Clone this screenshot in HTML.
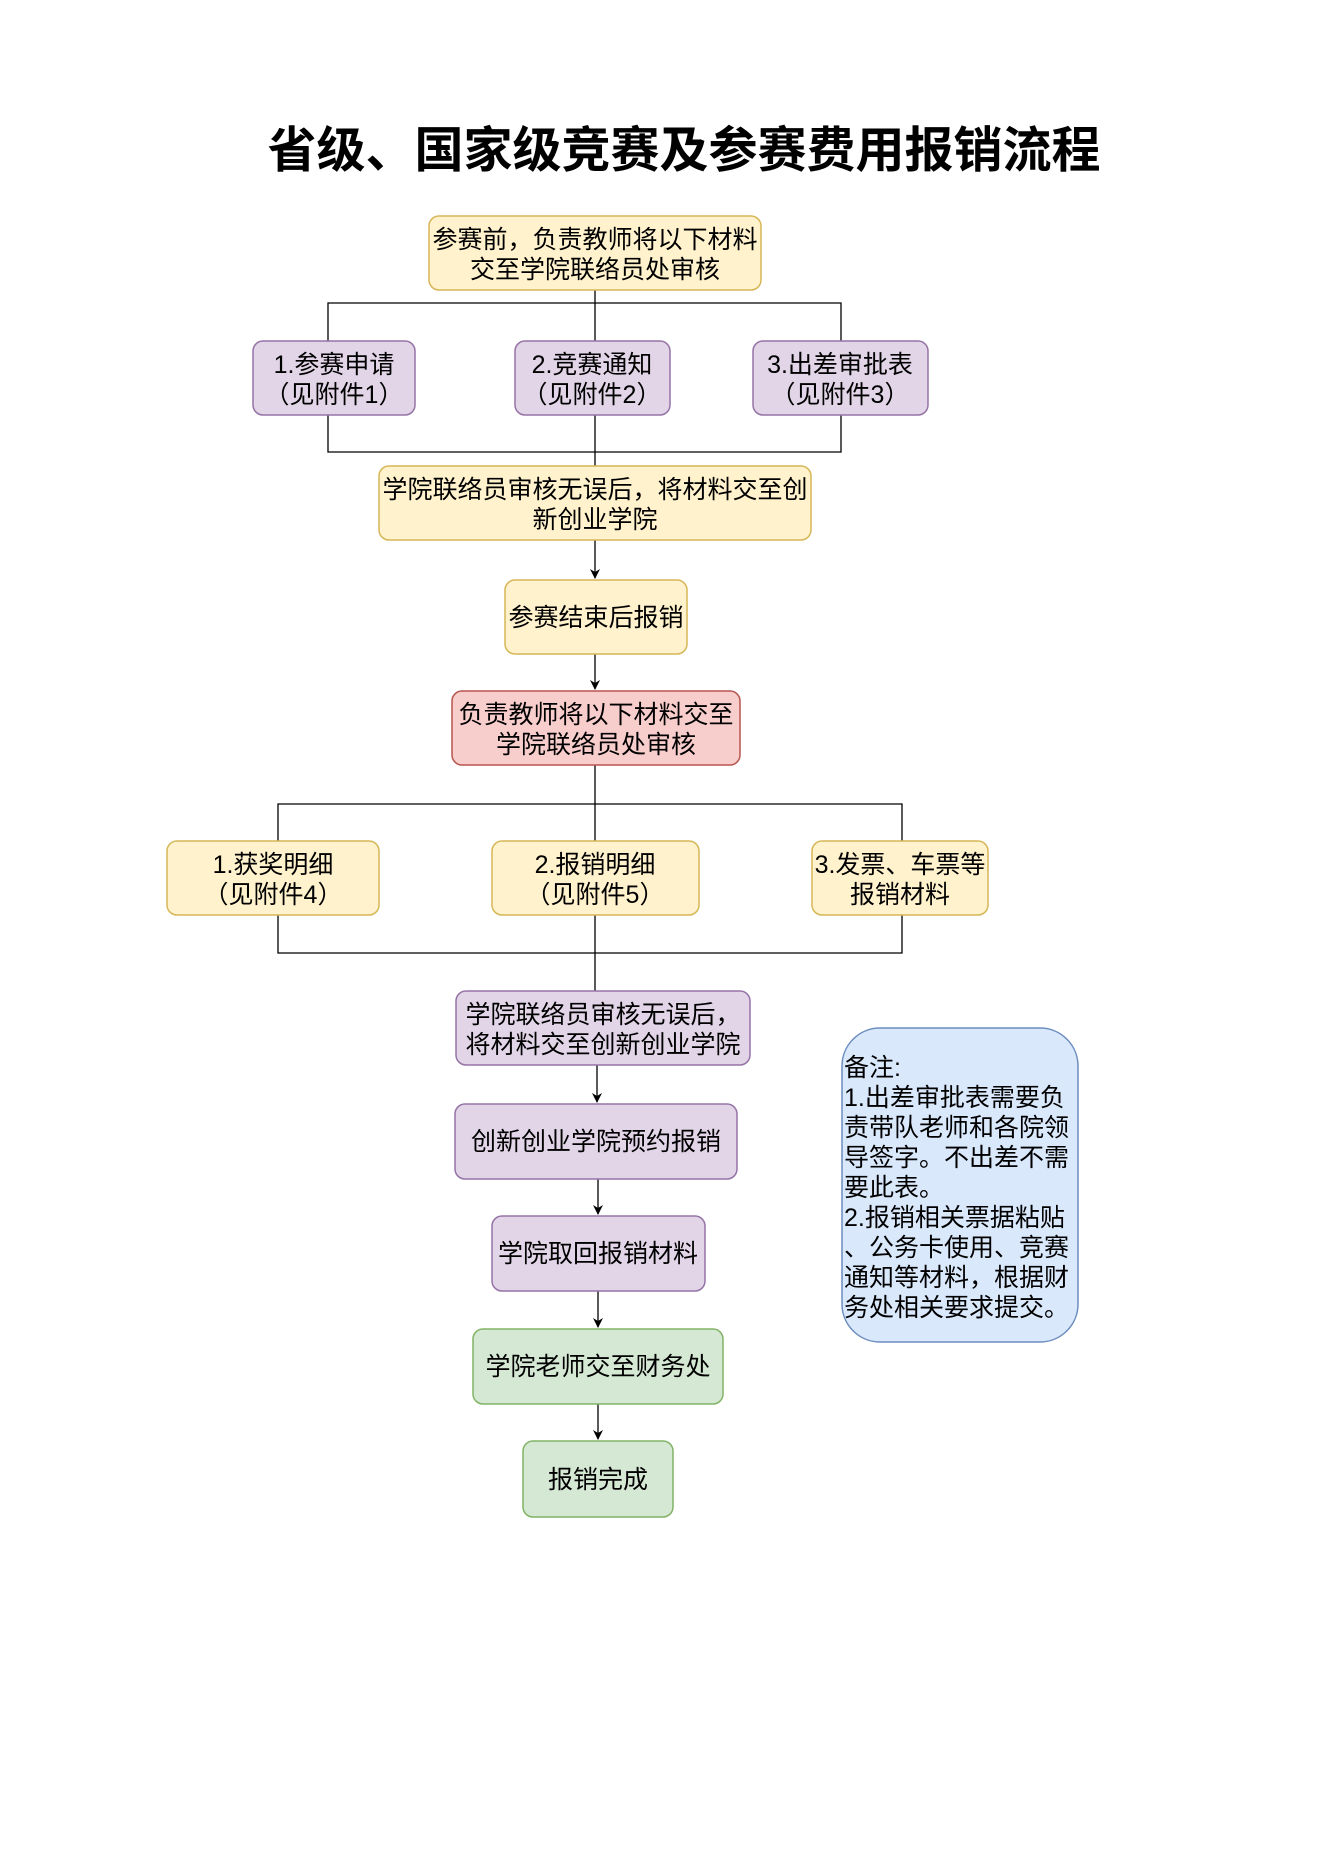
<!DOCTYPE html>
<html><head><meta charset="utf-8"><style>
html,body{margin:0;padding:0;background:#fff;}
svg{display:block;}
text{font-family:"Liberation Sans","Noto Sans CJK SC",sans-serif;font-size:25px;fill:#000;}
</style></head><body>
<svg width="1322" height="1871" viewBox="0 0 1322 1871" xmlns="http://www.w3.org/2000/svg">
<defs><marker id="a" markerWidth="10" markerHeight="10" refX="9" refY="5" orient="auto" markerUnits="userSpaceOnUse"><path d="M0,0 L10,5 L0,10 L3,5 Z" fill="#000"/></marker></defs>
<text x="684" y="167" text-anchor="middle" style="font-size:49px;font-weight:bold">省级、国家级竞赛及参赛费用报销流程</text>

<g stroke="#000" stroke-width="1.3" fill="none">
<path d="M595 290 V466"/>
<path d="M328 341 V303 H841 V341"/>
<path d="M328 415 V452 H841 V415"/>
<path d="M595 540 V578" marker-end="url(#a)"/>
<path d="M595 654 V689" marker-end="url(#a)"/>
<path d="M595 765 V991"/>
<path d="M278 841 V804 H902 V841"/>
<path d="M278 915 V953 H902 V915"/>
<path d="M597 1065 V1102" marker-end="url(#a)"/>
<path d="M598 1179 V1214" marker-end="url(#a)"/>
<path d="M598 1291 V1327" marker-end="url(#a)"/>
<path d="M598 1404 V1439" marker-end="url(#a)"/>
</g>

<g stroke-width="1.5">
<rect x="429" y="216" width="332" height="74" rx="10" fill="#fff2cc" stroke="#d6b656"/>
<rect x="253" y="341" width="162" height="74" rx="10" fill="#e1d5e7" stroke="#9673a6"/>
<rect x="515" y="341" width="155" height="74" rx="10" fill="#e1d5e7" stroke="#9673a6"/>
<rect x="753" y="341" width="175" height="74" rx="10" fill="#e1d5e7" stroke="#9673a6"/>
<rect x="379" y="466" width="432" height="74" rx="10" fill="#fff2cc" stroke="#d6b656"/>
<rect x="505" y="580" width="182" height="74" rx="10" fill="#fff2cc" stroke="#d6b656"/>
<rect x="452" y="691" width="288" height="74" rx="10" fill="#f8cecc" stroke="#b85450"/>
<rect x="167" y="841" width="212" height="74" rx="10" fill="#fff2cc" stroke="#d6b656"/>
<rect x="492" y="841" width="207" height="74" rx="10" fill="#fff2cc" stroke="#d6b656"/>
<rect x="812" y="841" width="176" height="74" rx="10" fill="#fff2cc" stroke="#d6b656"/>
<rect x="456" y="991" width="294" height="74" rx="10" fill="#e1d5e7" stroke="#9673a6"/>
<rect x="455" y="1104" width="282" height="75" rx="10" fill="#e1d5e7" stroke="#9673a6"/>
<rect x="492" y="1216" width="213" height="75" rx="10" fill="#e1d5e7" stroke="#9673a6"/>
<rect x="473" y="1329" width="250" height="75" rx="10" fill="#d5e8d4" stroke="#82b366"/>
<rect x="523" y="1441" width="150" height="76" rx="10" fill="#d5e8d4" stroke="#82b366"/>
<rect x="842" y="1028" width="236" height="314" rx="38" fill="#dae8fc" stroke="#6c8ebf"/>
</g>

<g text-anchor="middle">
<text x="595" y="248">参赛前，负责教师将以下材料</text>
<text x="595" y="278">交至学院联络员处审核</text>
<text x="334" y="373">1.参赛申请</text>
<text x="334" y="403">（见附件1）</text>
<text x="592" y="373">2.竞赛通知</text>
<text x="592" y="403">（见附件2）</text>
<text x="840" y="373">3.出差审批表</text>
<text x="840" y="403">（见附件3）</text>
<text x="595" y="498">学院联络员审核无误后，将材料交至创</text>
<text x="595" y="528">新创业学院</text>
<text x="596" y="626">参赛结束后报销</text>
<text x="596" y="723">负责教师将以下材料交至</text>
<text x="596" y="753">学院联络员处审核</text>
<text x="273" y="873">1.获奖明细</text>
<text x="273" y="903">（见附件4）</text>
<text x="595" y="873">2.报销明细</text>
<text x="595" y="903">（见附件5）</text>
<text x="900" y="873">3.发票、车票等</text>
<text x="900" y="903">报销材料</text>
<text x="603" y="1023">学院联络员审核无误后，</text>
<text x="603" y="1053">将材料交至创新创业学院</text>
<text x="596" y="1150">创新创业学院预约报销</text>
<text x="598" y="1262">学院取回报销材料</text>
<text x="598" y="1375">学院老师交至财务处</text>
<text x="598" y="1488">报销完成</text>
</g>
<g>
<text x="844" y="1076">备注:</text>
<text x="844" y="1106">1.出差审批表需要负</text>
<text x="844" y="1136">责带队老师和各院领</text>
<text x="844" y="1166">导签字。不出差不需</text>
<text x="844" y="1196">要此表。</text>
<text x="844" y="1226">2.报销相关票据粘贴</text>
<text x="844" y="1256">、公务卡使用、竞赛</text>
<text x="844" y="1286">通知等材料，根据财</text>
<text x="844" y="1316">务处相关要求提交。</text>
</g>
</svg>
</body></html>
